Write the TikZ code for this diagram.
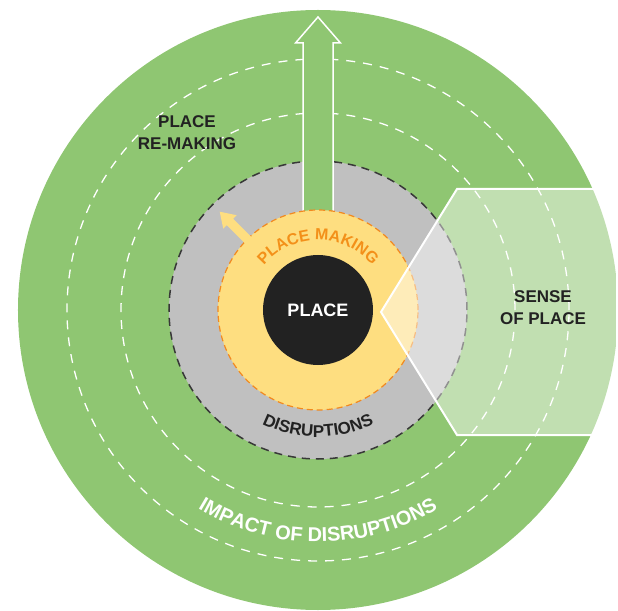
\documentclass[tikz,border=0pt]{standalone}
\usepackage{fontspec}
\setmainfont{Liberation Sans}
\usetikzlibrary{positioning,decorations.text}
\definecolor{ringgreen}{RGB}{143,198,114}
\definecolor{ringgray}{RGB}{192,192,192}
\definecolor{ringyellow}{RGB}{254,222,128}
\definecolor{placeblack}{RGB}{34,34,34}
\definecolor{dashorange}{RGB}{242,137,31}
\definecolor{textorange}{RGB}{243,144,25}
\definecolor{textdark}{RGB}{34,34,34}
\newcommand{\arcfont}[1]{\fontsize{#1}{#1}\selectfont\bfseries}
\tikzset{%
  whitedash/.style={draw=white,line width=1.3pt,dash pattern=on 9pt off 8pt},
  ringlabel/.style={font=\fontsize{17}{22}\selectfont\bfseries,text=textdark,align=center,inner sep=0pt},
  overlay/.style={fill=white,fill opacity=.45,draw=white,line width=2pt,line join=miter},
  bigarrow/.style={fill=ringgreen,draw=white,line width=1.5pt},
  arclabel/.style={decorate,decoration={text along path,text align=center,text={#1}}}
}
\begin{document}
\begin{tikzpicture}[x=1pt,y=1pt]
	\useasboundingbox (-318,-300) rectangle (300,310);
	% impact of disruptions
	\fill[ringgreen] (0,0) circle (300);
	\draw[whitedash] (0,0) circle (251);
	\draw[whitedash] (0,0) circle (197);
	% disruptions
	\filldraw[fill=ringgray,draw=placeblack!90,line width=1.5pt,dash pattern=on 8pt off 6pt] (0,0) circle (149);
	\filldraw[bigarrow] (-15,95) -- (-15,267) -- (-22.5,267) -- (0,293) -- (22.5,267) -- (15,267) -- (15,95);
	% place making
	\filldraw[fill=ringyellow,draw=dashorange,line width=1.2pt,dash pattern=on 6pt off 4pt] (0,0) circle (100);
	\fill[ringyellow,rotate=135] (96,-4.5) -- (124.5,-4.5) -- (124.5,-9.5) -- (139,0)
		-- (124.5,9.5) -- (124.5,4.5) -- (96,4.5) -- cycle;
	\node[circle,fill=placeblack,minimum size=110pt,inner sep=0pt,text=white,
		font=\fontsize{18}{18}\selectfont\bfseries] (place) at (0,0) {PLACE};
	\path[arclabel={|\arcfont{16}\color{textorange}|PLACE MAKING}]
		(160:70) arc[start angle=160,end angle=20,radius=70];
	\path[arclabel={|\arcfont{17}\color{textdark}|DISRUPTIONS}]
		(235:127) arc[start angle=235,end angle=305,radius=127];
	\path[arclabel={|\arcfont{20}\color{white}|IMPACT OF DISRUPTIONS}]
		(225:232) arc[start angle=225,end angle=315,radius=232];
	\node[ringlabel] (remaking) at (-131,177) {PLACE\\RE-MAKING};
	% sense of place
	\filldraw[overlay] (63,-2) -- (139,121) -- (299,121) -- (299,-125) -- (139,-125) -- cycle;
	\node[ringlabel] (sense) at (225,2) {SENSE\\OF PLACE};
\end{tikzpicture}
\end{document}
